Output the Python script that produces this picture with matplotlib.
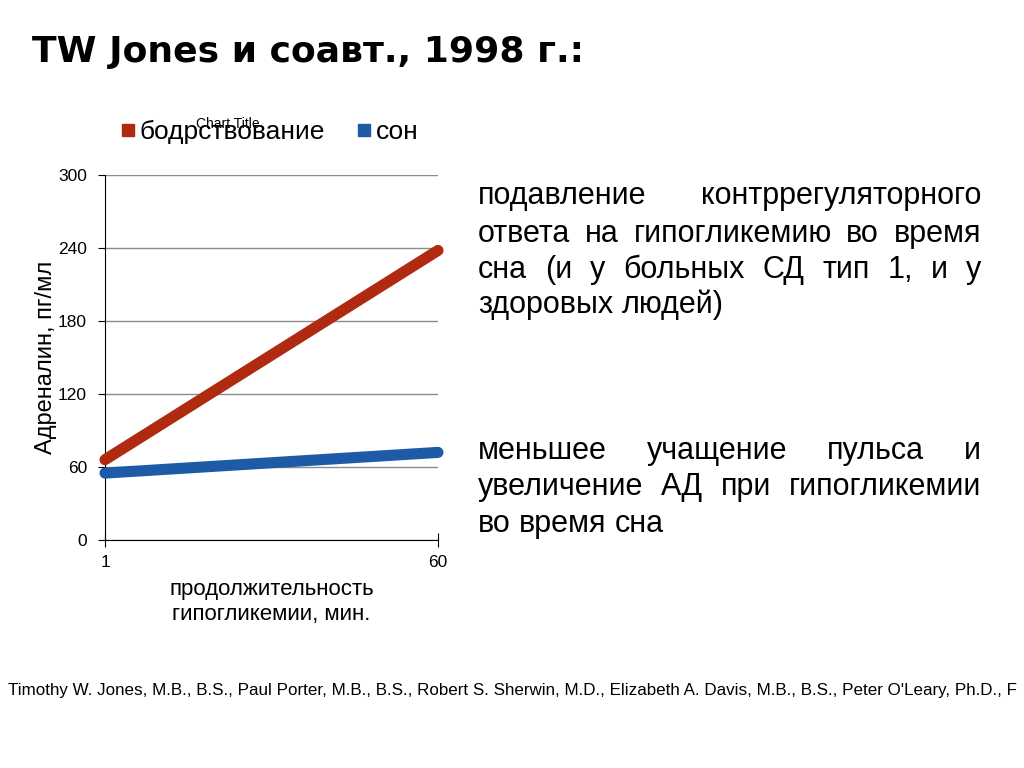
import matplotlib
matplotlib.use('Agg')
import matplotlib.pyplot as plt
from matplotlib.lines import Line2D

# data
minutes = [1, 60]
awake = [66, 238]     # бодрствование
sleep = [55, 72]      # сон
y_ticks = [0, 60, 120, 180, 240, 300]

title = 'TW Jones и соавт., 1998 г.:'
block1 = ['подавление контррегуляторного',
          'ответа на гипогликемию во время',
          'сна (и у больных СД тип 1, и у',
          'здоровых людей)']
block2 = ['меньшее учащение пульса и',
          'увеличение АД при гипогликемии',
          'во время сна']
footer = ("Timothy W. Jones, M.B., B.S., Paul Porter, M.B., B.S., Robert S. Sherwin, M.D., "
          "Elizabeth A. Davis, M.B., B.S., Peter O'Leary, Ph.D., F")

RED = '#B02A12'
BLUE = '#1D5BA6'
W, H = 1024, 768

plt.rcParams['font.family'] = ['Liberation Sans', 'DejaVu Sans']

fig = plt.figure(figsize=(10.24, 7.68), dpi=100)
fig.patch.set_facecolor('white')

def px(x, y):
    # pixel coords (top-left origin) -> figure fraction
    return x / W, 1 - y / H

# main plot
ax = fig.add_axes([105 / W, 1 - 540 / H, 333 / W, 365 / H])
ax.plot(minutes, awake, color=RED, lw=8, solid_capstyle='round', zorder=3, clip_on=False)
ax.plot(minutes, sleep, color=BLUE, lw=8, solid_capstyle='round', zorder=3, clip_on=False)
ax.set_xlim(1, 60)
ax.set_ylim(0, 300)
ax.set_yticks(y_ticks)
ax.set_xticks(minutes)
ax.set_xticklabels([str(m) for m in minutes])
ax.grid(axis='y', color='#8c8c8c', lw=1)
ax.set_axisbelow(True)
for s in ['top', 'right']:
    ax.spines[s].set_visible(False)
ax.tick_params(axis='y', direction='out', length=5, labelsize=12.5, colors='black', pad=8)
ax.tick_params(axis='x', direction='inout', length=10, labelsize=12.5, pad=6)
ax.set_ylabel('Адреналин, пг/мл', fontsize=17)
ax.yaxis.set_label_coords(-0.145, 0.50)
ax.set_xlabel('продолжительность\nгипогликемии, мин.', fontsize=16, labelpad=6, linespacing=1.3)

# legend
handles = [Line2D([], [], color=RED, marker='s', ls='none', markersize=9),
           Line2D([], [], color=BLUE, marker='s', ls='none', markersize=9)]
fig.legend(handles, ['бодрствование', 'сон'], loc='center', bbox_to_anchor=px(268, 132),
           ncol=2, frameon=False, fontsize=19, handletextpad=0.05, columnspacing=1.1,
           handlelength=0.8)
fig.text(*px(228, 124), 'Chart Title', fontsize=10, ha='center', va='center')

# title
fig.text(*px(32, 62), title, fontsize=26, fontweight='bold', family='DejaVu Sans',
         ha='left', va='baseline')

renderer = fig.canvas.get_renderer()

def justify(lines, x0, x1, baselines, size):
    t1 = fig.text(0, 0, 'a a', fontsize=size)
    t2 = fig.text(0, 0, 'aa', fontsize=size)
    space = t1.get_window_extent(renderer).width - t2.get_window_extent(renderer).width
    t1.remove()
    t2.remove()
    for i, line in enumerate(lines):
        words = line.split()
        texts = [fig.text(0, 0, w, fontsize=size, va='baseline') for w in words]
        widths = [t.get_window_extent(renderer).width for t in texts]
        if i == len(lines) - 1 or len(words) == 1:
            gap = space
        else:
            gap = (x1 - x0 - sum(widths)) / (len(words) - 1)
        x = x0
        for t, wdt in zip(texts, widths):
            t.set_position(px(x, baselines[i]))
            x += wdt + gap

justify(block1, 478, 981, [204, 242, 278, 313], 22)
justify(block2, 478, 981, [459, 495, 532], 22)

# footer, shrunk so it fits the page width
ft = fig.text(*px(8, 695), footer, fontsize=12.5, va='baseline', ha='left')
w = ft.get_window_extent(renderer).width
ft.set_fontsize(12.5 * min(1.0, 1010 / w))

fig.savefig('out.png', dpi=100, facecolor='white')
